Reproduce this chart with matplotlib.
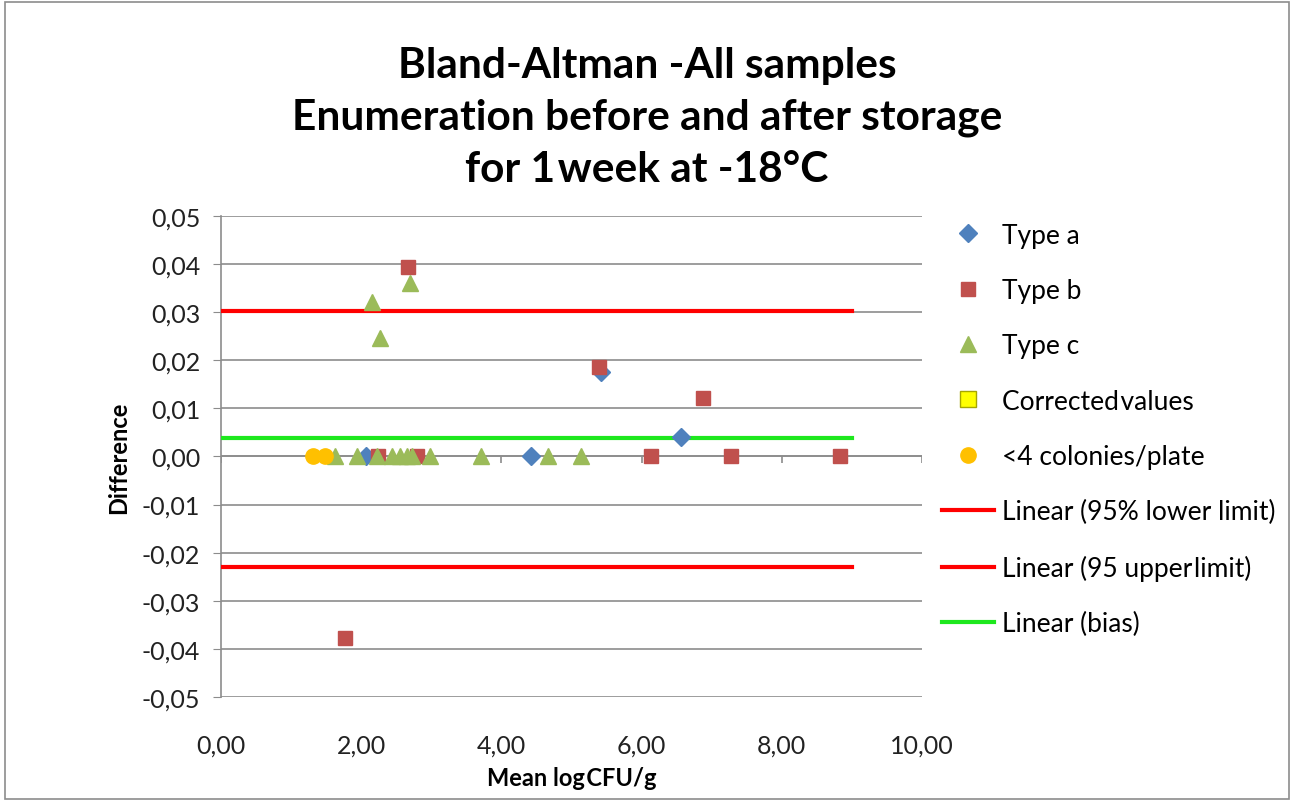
import matplotlib.pyplot as plt
import matplotlib.patches as patches
import numpy as np

# values
type_a_x = [2.07, 4.42, 5.42, 6.56]
type_a_y = [0.0, 0.0, 0.0176, 0.0040]

type_b_x = [2.24, 2.80, 2.67, 1.77, 5.39, 6.88, 6.13, 7.28, 8.83]
type_b_y = [0.0, 0.0, 0.0394, -0.0377, 0.0186, 0.0122, 0.0, 0.0, 0.0]

type_c_x = [1.63, 1.94, 2.22, 2.44, 2.55, 2.65, 2.72, 2.98, 3.71, 4.66, 5.14,
            2.15, 2.27, 2.70]
type_c_y = [0.0, 0.0, 0.0, 0.0, 0.0, 0.0, 0.0, 0.0, 0.0, 0.0, 0.0,
            0.0321, 0.0246, 0.0361]

corrected_x = []
corrected_y = []

low_col_x = [1.31, 1.48]
low_col_y = [0.0, 0.0]

line_x = [0.0, 9.0]
lower_limit = 0.0302
upper_limit = -0.0230
bias = 0.0038

xticks = np.arange(0, 10.01, 2)
yticks = np.arange(-0.05, 0.0501, 0.01)

plt.rcParams['font.family'] = ['Lato', 'DejaVu Sans']

fig = plt.figure(figsize=(12.94, 8.03), dpi=100)
ax = fig.add_axes([0.1708, 0.1308, 0.5417, 0.599])

ax.plot(type_a_x, type_a_y, 'D', color='#4F81BD', ms=9, ls='none', label='Type a', zorder=4)
ax.plot(type_b_x, type_b_y, 's', color='#C0504D', ms=10, ls='none', label='Type b', zorder=4)
ax.plot(type_c_x, type_c_y, '^', color='#9BBB59', ms=12, ls='none', label='Type c', zorder=5)
ax.plot(corrected_x, corrected_y, 's', color='#FFFF00', mec='#A6A600', ms=11, ls='none',
        label='Corrected\u200avalues', zorder=5)
ax.plot(low_col_x, low_col_y, 'o', color='#FFC000', ms=11, ls='none',
        label='<4 colonies/plate', zorder=5)
ax.plot(line_x, [lower_limit] * 2, color='#FF0000', lw=3, label='Linear (95% lower limit)', zorder=3)
ax.plot(line_x, [upper_limit] * 2, color='#FF0000', lw=3, label='Linear (95 upper\u200alimit)', zorder=3)
ax.plot(line_x, [bias] * 2, color='#1EE81E', lw=3, label='Linear (bias)', zorder=3)

ax.set_xlim(0, 10)
ax.set_ylim(-0.05, 0.05)
ax.set_xticks(xticks)
ax.set_yticks(yticks)
ax.set_xticklabels([f'{v:.2f}'.replace('.', ',') for v in xticks])
ax.set_yticklabels([f'{v:.2f}'.replace('.', ',').replace('-0,00', '0,00') for v in yticks])
ax.tick_params(axis='x', length=0, pad=26, labelsize=18, colors='#222222')
ax.tick_params(axis='y', length=6, color='#8C8C8C', labelsize=18, labelcolor='#222222', pad=9)

ax.grid(axis='y', color='#8C8C8C', lw=1.2)
ax.set_axisbelow(True)
for s in ['top', 'right', 'bottom']:
    ax.spines[s].set_visible(False)
ax.spines['left'].set_color('#8C8C8C')
ax.spines['left'].set_linewidth(1.2)

# x axis crosses at y = 0 with small downward ticks
ax.axhline(0, color='#8C8C8C', lw=1.2, zorder=1)
ax.vlines(xticks, -0.0013, 0, color='#8C8C8C', lw=1.2, zorder=1)

ax.set_xlabel('Mean log\u200aCFU/g', fontsize=17, fontweight='bold', labelpad=7)
ax.set_ylabel('Difference', fontsize=17, fontweight='bold', labelpad=8)

fig.text(0.5, 0.853, 'Bland-Altman -All samples\nEnumeration before and after storage\nfor 1\u200aweek at -18°C',
         fontsize=30.5, fontweight='bold', ha='center', va='center', linespacing=1.45)

leg = ax.legend(loc='upper left', bbox_to_anchor=(1.013, 1.008), frameon=False,
                fontsize=19, labelspacing=1.15, handlelength=2.0, handletextpad=0.3,
                borderaxespad=0.0)

fig.patches.append(patches.Rectangle((0.004, 0.004), 0.992, 0.992, transform=fig.transFigure,
                                     fill=False, ec='#8C8C8C', lw=1.2))

fig.savefig('out.png', dpi=100)
